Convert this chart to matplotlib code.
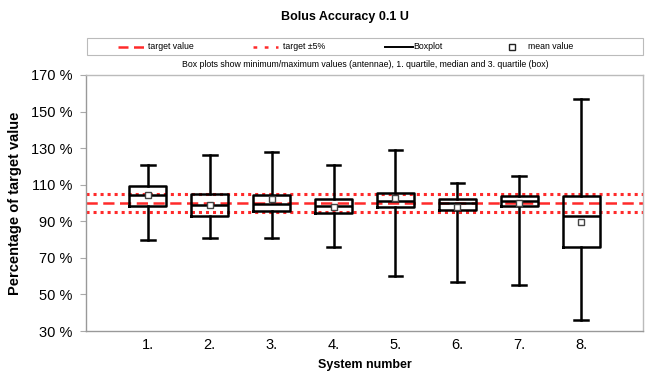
import matplotlib
matplotlib.use("Agg")
import matplotlib.pyplot as plt
from matplotlib.lines import Line2D
from matplotlib.patches import Rectangle

plt.rcParams['font.family'] = ['Liberation Sans', 'DejaVu Sans']

systems = ["1.", "2.", "3.", "4.", "5.", "6.", "7.", "8."]
whisker_low = [80, 81, 81, 76, 60, 57, 55, 36]
quartile1 = [98.5, 93, 95.5, 94.5, 98, 96, 98.5, 76]
median = [104.5, 99, 99.5, 98.5, 101, 100, 101, 93]
quartile3 = [109.5, 105, 104.5, 102, 105.5, 102, 104, 104]
whisker_high = [121, 126, 128, 121, 129, 111, 115, 157]
mean = [104.5, 99, 102, 98, 102.5, 98, 100, 89.5]
target = 100
tolerance = 5
yticks = [30, 50, 70, 90, 110, 130, 150, 170]

fig = plt.figure(figsize=(6.45, 3.73), dpi=100)
ax = fig.add_axes([0.1333, 0.1126, 0.997 - 0.1333, 0.799 - 0.1126])

stats = []
for i in range(len(systems)):
    stats.append(dict(whislo=whisker_low[i], q1=quartile1[i], med=median[i],
                      q3=quartile3[i], whishi=whisker_high[i], mean=mean[i],
                      fliers=[], label=systems[i]))

pos = list(range(1, len(systems) + 1))
red = '#ff2a2a'
ax.axhline(target, color=red, lw=1.8, dashes=(4.5, 2.2), zorder=1)
ax.axhline(target + tolerance, color=red, lw=2.2, dashes=(1.0, 1.3), zorder=1)
ax.axhline(target - tolerance, color=red, lw=2.2, dashes=(1.0, 1.3), zorder=1)

ax.bxp(stats, positions=pos, widths=0.6, showmeans=True,
       boxprops=dict(color='black', lw=1.8),
       medianprops=dict(color='black', lw=1.8),
       whiskerprops=dict(color='black', lw=1.8),
       capprops=dict(color='black', lw=1.8),
       capwidths=0.22,
       meanprops=dict(marker='s', markersize=4.5, markerfacecolor='white',
                      markeredgecolor='#444444', markeredgewidth=1.0),
       zorder=3)

ax.set_xlim(0, 9)
ax.set_ylim(30, 170)
ax.set_yticks(yticks)
ax.set_yticklabels([f"{v} %" for v in yticks], fontsize=10.5)
ax.set_xticks(pos)
ax.set_xticklabels(systems, fontsize=10.5)
ax.tick_params(axis='x', length=0, pad=5)
ax.tick_params(axis='y', length=4, color='#aaaaaa', direction='out', pad=6)
for s in ax.spines.values():
    s.set_color('#bbbbbb')
    s.set_linewidth(1.0)
ax.spines['left'].set_color('#999999')
ax.spines['bottom'].set_color('#999999')

ax.set_ylabel("Percentage of target value", fontsize=10.5, fontweight='bold', labelpad=6)
fig.text(0.565, 1 - 365 / 373, "System number", ha='center', va='center',
         fontsize=9, fontweight='bold')

fig.text(0.535, 1 - 17 / 373, "Bolus Accuracy 0.1 U", ha='center', va='center',
         fontsize=9, fontweight='bold')
fig.text(0.566, 0.826, "Box plots show minimum/maximum values (antennae), 1. quartile, median and 3. quartile (box)",
         ha='center', va='center', fontsize=6.3)

# legend box
fig.patches.append(Rectangle((87 / 645, 1 - 55 / 373), (643 - 87) / 645, 17 / 373,
                             transform=fig.transFigure, fill=False,
                             edgecolor='#bbbbbb', lw=0.8))
ly = 1 - 46.5 / 373
fig.add_artist(Line2D([118 / 645, 147 / 645], [ly, ly], color=red, lw=1.8,
                      dashes=(4, 2.2), transform=fig.transFigure))
fig.text(148 / 645, ly, "target value", ha='left', va='center', fontsize=6.3)
fig.add_artist(Line2D([253 / 645, 278 / 645], [ly, ly], color=red, lw=1.8,
                      dashes=(1.5, 3), transform=fig.transFigure))
fig.text(283 / 645, ly, "target \u00b15%", ha='left', va='center', fontsize=6.3)
fig.add_artist(Line2D([385 / 645, 413 / 645], [ly, ly], color='black', lw=1.4,
                      transform=fig.transFigure))
fig.text(413 / 645, ly, "Boxplot", ha='left', va='center', fontsize=6.3)
fig.add_artist(Line2D([512 / 645], [ly], marker='s', markersize=4.5,
                      markerfacecolor='white', markeredgecolor='#222222',
                      markeredgewidth=1.0, transform=fig.transFigure))
fig.text(528 / 645, ly, "mean value", ha='left', va='center', fontsize=6.3)

fig.savefig("out.png", dpi=100)
